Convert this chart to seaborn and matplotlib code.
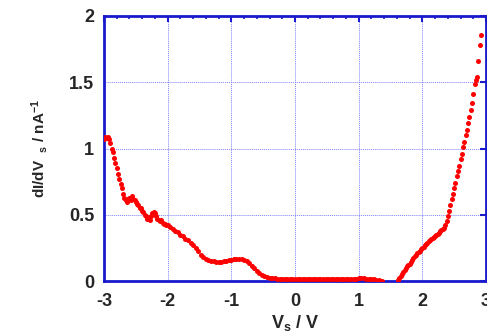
import numpy as np
import pandas as pd
import matplotlib
matplotlib.use("Agg")
import matplotlib.pyplot as plt
import seaborn as sns
from matplotlib.ticker import MultipleLocator

# dI/dV curve, left branch
x_left = [-3.00, -2.98, -2.96, -2.94, -2.92, -2.90, -2.88, -2.86, -2.84, -2.82,
          -2.80, -2.78, -2.76, -2.74, -2.72, -2.70, -2.68, -2.66, -2.64, -2.62,
          -2.60, -2.58, -2.56, -2.54, -2.52, -2.50, -2.48, -2.46, -2.44, -2.42,
          -2.40, -2.38, -2.36, -2.34, -2.32, -2.30, -2.28, -2.26, -2.24, -2.22,
          -2.20, -2.18, -2.16, -2.14, -2.12, -2.10, -2.08, -2.06, -2.04, -2.02,
          -2.00, -1.96, -1.92, -1.88, -1.84, -1.80, -1.76, -1.72, -1.68, -1.64,
          -1.60, -1.56, -1.52, -1.48, -1.44, -1.40, -1.36, -1.32, -1.28, -1.24,
          -1.20, -1.16, -1.12, -1.08, -1.04, -1.00, -0.96, -0.92, -0.88, -0.84,
          -0.80, -0.76, -0.72, -0.68, -0.64, -0.60, -0.56, -0.52, -0.48, -0.44,
          -0.40, -0.36, -0.32, -0.28, -0.24]
y_left = [1.07, 1.09, 1.08, 1.09, 1.07, 1.04, 1.00, 0.97, 0.93, 0.89,
          0.85, 0.81, 0.77, 0.73, 0.70, 0.66, 0.63, 0.61, 0.60, 0.62,
          0.63, 0.61, 0.64, 0.62, 0.61, 0.60, 0.58, 0.57, 0.55, 0.55,
          0.53, 0.52, 0.50, 0.49, 0.47, 0.48, 0.46, 0.49, 0.51, 0.52,
          0.51, 0.49, 0.47, 0.46, 0.45, 0.46, 0.44, 0.43, 0.43, 0.42,
          0.42, 0.41, 0.39, 0.38, 0.37, 0.35, 0.34, 0.32, 0.31, 0.29,
          0.27, 0.25, 0.23, 0.20, 0.18, 0.165, 0.155, 0.15, 0.148, 0.145,
          0.145, 0.145, 0.148, 0.152, 0.155, 0.16, 0.163, 0.166, 0.167, 0.165,
          0.16, 0.15, 0.135, 0.115, 0.095, 0.075, 0.06, 0.045, 0.035, 0.03,
          0.025, 0.022, 0.02, 0.018, 0.017]

# flat gap region
x_mid = [-0.20, -0.16, -0.12, -0.08, -0.04, 0.00, 0.04, 0.08, 0.12, 0.16,
         0.20, 0.24, 0.28, 0.32, 0.36, 0.40, 0.44, 0.48, 0.52, 0.56,
         0.60, 0.64, 0.68, 0.72, 0.76, 0.80, 0.84, 0.88, 0.92, 0.96,
         1.00, 1.04, 1.08, 1.12, 1.16, 1.20, 1.24, 1.28, 1.32, 1.36]
y_mid = [0.016, 0.015, 0.015, 0.014, 0.015, 0.015, 0.014, 0.015, 0.016, 0.015,
         0.014, 0.015, 0.015, 0.014, 0.015, 0.016, 0.015, 0.014, 0.015, 0.015,
         0.014, 0.015, 0.016, 0.015, 0.015, 0.014, 0.015, 0.016, 0.017, 0.018,
         0.019, 0.02, 0.019, 0.018, 0.017, 0.015, 0.013, 0.01, 0.005, -0.002]

# right branch
x_right = [1.62, 1.64, 1.66, 1.68, 1.70, 1.72, 1.74, 1.76, 1.78, 1.80,
           1.82, 1.84, 1.86, 1.88, 1.90, 1.92, 1.94, 1.96, 1.98, 2.00,
           2.02, 2.04, 2.06, 2.08, 2.10, 2.12, 2.14, 2.16, 2.18, 2.20,
           2.22, 2.24, 2.26, 2.28, 2.30, 2.32, 2.34, 2.36, 2.38, 2.40,
           2.42, 2.44, 2.46, 2.48, 2.50, 2.52, 2.54, 2.56, 2.58, 2.60,
           2.62, 2.64, 2.66, 2.68, 2.70, 2.72, 2.74, 2.76, 2.78, 2.80,
           2.82, 2.84, 2.86, 2.88, 2.90, 2.92]
y_right = [0.005, 0.025, 0.04, 0.055, 0.07, 0.085, 0.095, 0.11, 0.12, 0.13,
           0.145, 0.16, 0.175, 0.19, 0.20, 0.21, 0.22, 0.23, 0.24, 0.25,
           0.26, 0.27, 0.28, 0.29, 0.30, 0.31, 0.315, 0.325, 0.33, 0.34,
           0.35, 0.355, 0.365, 0.375, 0.385, 0.39, 0.40, 0.42, 0.45, 0.49,
           0.53, 0.57, 0.62, 0.66, 0.70, 0.74, 0.79, 0.83, 0.87, 0.92,
           0.96, 1.01, 1.05, 1.10, 1.14, 1.19, 1.24, 1.29, 1.34, 1.41,
           1.49, 1.52, 1.54, 1.66, 1.78, 1.86]

df = pd.DataFrame({"V": x_left + x_mid + x_right,
                   "dIdV": y_left + y_mid + y_right})

sns.set_style("white")
plt.rcParams["font.family"] = ["Liberation Sans", "DejaVu Sans"]
plt.rcParams["mathtext.fontset"] = "custom"
plt.rcParams["mathtext.bf"] = "Liberation Sans:bold"
plt.rcParams["mathtext.rm"] = "Liberation Sans:bold"
plt.rcParams["mathtext.default"] = "bf"

fig = plt.figure(figsize=(4.87, 3.31), dpi=100)
ax = fig.add_axes([104 / 487, 50 / 331, 382 / 487, 265 / 331])

sns.scatterplot(data=df, x="V", y="dIdV", ax=ax, color="#ff0000",
                s=13, linewidth=0, legend=False, zorder=3)

ax.set_xlim(-3, 3)
ax.set_ylim(0, 2)
ax.xaxis.set_minor_locator(MultipleLocator(0.2))
ax.set_yticks([0, 0.5, 1, 1.5, 2])
ax.set_yticklabels(["0", "0.5", "1", "1.5", "2"])
ax.set_xticks([-3, -2, -1, 0, 1, 2, 3])
ax.set_xticklabels(["-3", "-2", "-1", "0", "1", "2", "3"])

ax.grid(True, which="major", color="#8080ff", linestyle=(0, (1, 1)), linewidth=0.7)
for sp in ax.spines.values():
    sp.set_color("#1a1acc")
    sp.set_linewidth(2)
    sp.set_visible(True)

ax.tick_params(which="both", direction="in", top=True, right=True,
               color="#1a1acc", labelsize=13)
ax.tick_params(axis="x", pad=9)
ax.tick_params(axis="y", pad=7)
ax.tick_params(which="major", length=4, width=1.5)
ax.tick_params(which="minor", length=2.5, width=1.2)
for lab in ax.get_xticklabels() + ax.get_yticklabels():
    lab.set_fontweight("bold")

ax.set_xlabel(r"V$_s$ / V", fontsize=13, fontweight="bold", labelpad=2)
ax.set_ylabel(r"dI/dV  $_s$ / nA$^{-1}$", fontsize=11, fontweight="bold", labelpad=14)

fig.savefig("out.png", dpi=100)
